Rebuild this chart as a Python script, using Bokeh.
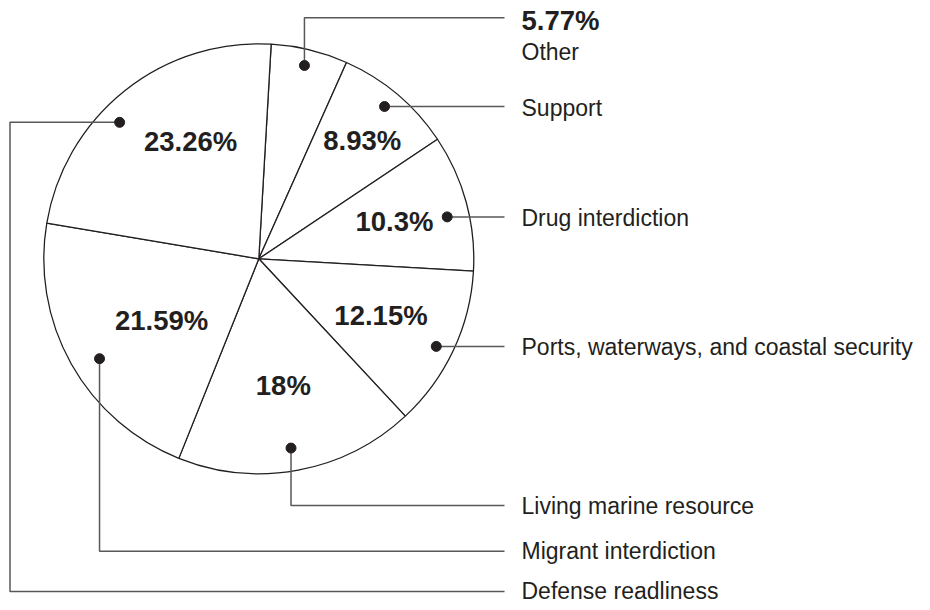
import math
from bokeh.plotting import figure
from bokeh.models import Range1d
from bokeh.core.properties import value
from bokeh.embed import file_html
from bokeh.resources import INLINE

# ---- data ----
categories = ["Other", "Support", "Drug interdiction",
              "Ports, waterways, and coastal security",
              "Living marine resource", "Migrant interdiction",
              "Defense readliness"]
shares = [5.77, 8.93, 10.3, 12.15, 18, 21.59, 23.26]
pct_labels = ["5.77%", "8.93%", "10.3%", "12.15%", "18%", "21.59%", "23.26%"]

# ---- layout (pixel coords, y downwards) ----
W, H = 922, 602
CX, CY, R = 258.3, 258.3, 215.0
START = 3.3  # degrees clockwise from north
INK = "#231f20"
LEAD = "#58585a"
FONT = "Liberation Sans"

def Y(yref):
    return H - yref

p = figure(width=W, height=H, output_backend="svg", toolbar_location=None,
           x_range=Range1d(0, W), y_range=Range1d(0, H),
           min_border=0, outline_line_color=None)
p.axis.visible = False
p.grid.visible = False
p.background_fill_color = "white"

total = sum(shares)
clock = [START]
for s in shares:
    clock.append(clock[-1] + 360.0 * s / total)

starts = [math.radians(90 - clock[i + 1]) for i in range(len(shares))]
ends = [math.radians(90 - clock[i]) for i in range(len(shares))]
p.wedge(x=[CX] * len(shares), y=[Y(CY)] * len(shares), radius=R,
        start_angle=starts, end_angle=ends, fill_color="white",
        line_color=INK, line_width=1.3)

mids = [(clock[i] + clock[i + 1]) / 2 for i in range(len(shares))]

def polar(theta_deg, r):
    t = math.radians(theta_deg)
    return CX + r * math.sin(t), CY - r * math.cos(t)

# dots (mid angle + small nudge)
dot_nudge = [-0.4, -0.6, 2.7, 1.1, 0.9, -2.8, -7.0]
dot_r = [198.6, 197.5, 193, 197.9, 192, 188, 194.9]
dots = [polar(mids[i] + dot_nudge[i], dot_r[i]) for i in range(len(shares))]

# percent labels inside (not for first slice)
lab_nudge = [0, 1.1, -0.2, -0.3, -0.4, -3.1, 8.4]
lab_r = [0, 157, 140.7, 134.7, 129, 115.2, 135.7]
in_x, in_y, in_t = [], [], []
for i in range(1, len(shares)):
    x, y = polar(mids[i] + lab_nudge[i], lab_r[i])
    in_x.append(x); in_y.append(Y(y)); in_t.append(pct_labels[i])
p.text(x=in_x, y=in_y, text=in_t, text_align="center", text_baseline="middle",
       text_font=value(FONT), text_font_style="bold", text_font_size="27.5px",
       text_color=INK)

# leader lines
XEND = 504
TX = 521
xs, ys = [], []
lab_y = []
# Other
d = dots[0]
xs.append([d[0], d[0], XEND]); ys.append([Y(d[1]), Y(17.3), Y(17.3)])
lab_y.append(51.7)
# Support, Drug, Ports
for i in (1, 2, 3):
    d = dots[i]
    xs.append([d[0], XEND]); ys.append([Y(d[1]), Y(d[1])])
    lab_y.append(d[1] + 1)
# Living, Migrant
for i, yl in ((4, 505), (5, 550.7)):
    d = dots[i]
    xs.append([d[0], d[0], XEND]); ys.append([Y(d[1]), Y(yl), Y(yl)])
    lab_y.append(yl)
# Defense
YD = 591
d = dots[6]
xs.append([d[0], 9.5, 9.5, XEND]); ys.append([Y(d[1]), Y(d[1]), Y(YD), Y(YD)])
lab_y.append(YD - 1)

p.multi_line(xs=xs, ys=ys, line_color=LEAD, line_width=1.5)
p.scatter(x=[d[0] for d in dots], y=[Y(d[1]) for d in dots], size=10,
          fill_color=INK, line_color=INK)

# category labels
p.text(x=[TX] * len(categories), y=[Y(v) for v in lab_y], text=categories,
       text_align="left", text_baseline="middle", text_font=value(FONT),
       text_font_size="23px", text_color=INK)
# top percent for "Other"
p.text(x=[TX], y=[Y(20)], text=[pct_labels[0]], text_align="left",
       text_baseline="middle", text_font=value(FONT), text_font_style="bold",
       text_font_size="27.5px", text_color=INK)

open("out.html", "w").write(file_html(p, INLINE))
